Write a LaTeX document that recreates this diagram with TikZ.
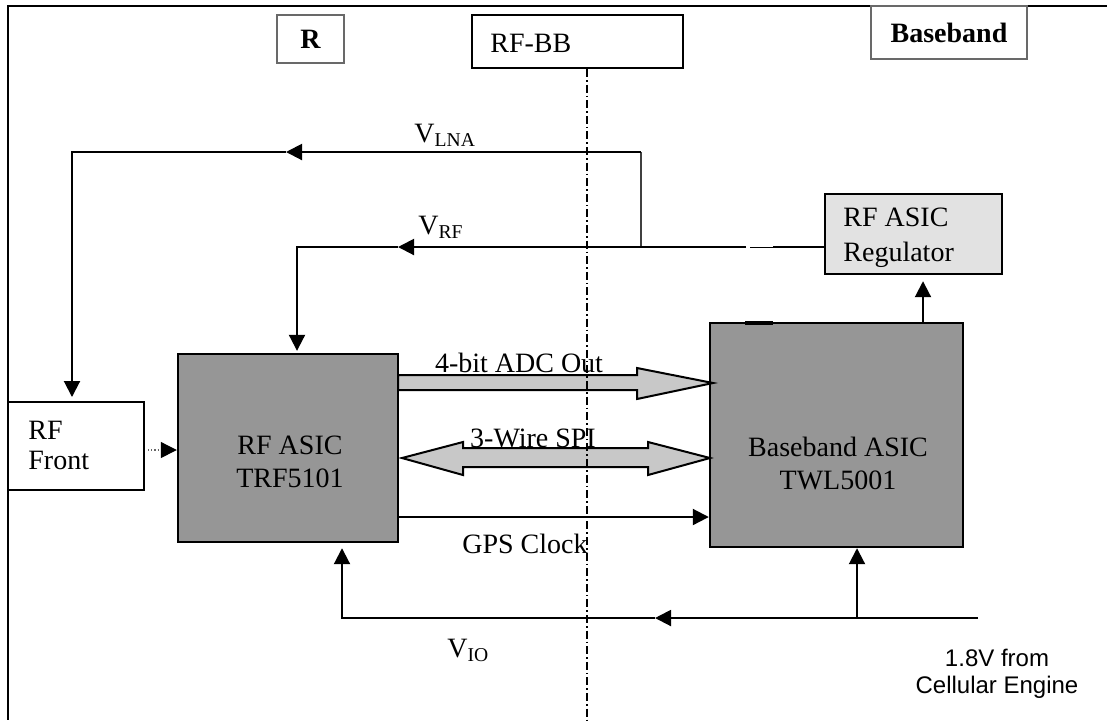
\documentclass[tikz,border=0pt]{standalone}
\usepackage{fontspec}
\setmainfont{Liberation Serif}
\setsansfont{Liberation Sans}
\usetikzlibrary{arrows.meta,calc}

\definecolor{chipgray}{RGB}{150,150,150}
\definecolor{busgray}{RGB}{200,200,200}
\definecolor{reggray}{RGB}{226,226,226}
\definecolor{taggray}{RGB}{105,105,105}

\tikzset{
  chip/.style={draw=black,line width=1.2pt,fill=chipgray,inner sep=0pt},
  plainbox/.style={draw=black,line width=1pt,fill=white,inner sep=0pt},
  tagbox/.style={draw=taggray,line width=1pt,fill=white,inner sep=0pt},
  txt/.style={font=\fontsize{14}{16.5}\selectfont,inner sep=0pt},
  wire/.style={line width=1pt},
  tip/.style={-{Triangle[length=8pt,width=8pt]}},
  bus/.style={draw=black,line width=1pt,fill=busgray,line join=miter},
}

\begin{document}
\begin{tikzpicture}[x=0.5pt,y=-0.5pt]
  \useasboundingbox (0,0) rectangle (1107,720);
  % outer frame
  \draw[line width=1pt] (1107,6) -- (8,6) -- (8,720);

  % tags on top
  \node[tagbox,minimum width=33.5pt,minimum height=24pt] (rtag) at (310.5,39)
    {\fontsize{14}{16}\selectfont\bfseries R};
  \node[plainbox,minimum width=105.5pt,minimum height=26.5pt] (rfbb) at (577.5,41.5) {};
  \node[txt,anchor=west] at ($(rfbb.west)+(19,2)$) {RF-BB};
  \node[tagbox,minimum width=78pt,minimum height=26.5pt] (bbtag) at (949,32.5)
    {\fontsize{14}{16}\selectfont\bfseries Baseband};

  % blocks
  \node[plainbox,minimum width=68pt,minimum height=44pt] (rffront) at (76,446) {};
  \node[txt,anchor=west,align=left,font=\fontsize{14}{15}\selectfont] at (28,445) {RF\\Front};

  \node[chip,minimum width=110pt,minimum height=94pt] (rfasic) at (288,448) {};
  \node[txt,align=center] at (290,461.5) {RF ASIC\\TRF5101};

  \node[chip,minimum width=126.5pt,minimum height=112pt] (bbasic) at (836.5,435) {};
  \node[txt,align=center] at (838,463.5) {Baseband ASIC\\TWL5001};
  \draw[line width=1.6pt] (745,323) -- (773,323);

  \node[draw=black,line width=1.2pt,fill=reggray,minimum width=88.5pt,minimum height=40pt,
        inner sep=0pt] (reg) at (913.5,234) {};
  \node[txt,anchor=west,align=left,font=\fontsize{14}{17.5}\selectfont] at (843,237.5)
    {RF ASIC\\Regulator};

  % supply lines
  \coordinate (lnaTap) at (641,247);
  \coordinate (lnaTop) at (641,152);
  \coordinate (lnaMid) at (286,152);
  \coordinate (lnaCorner) at (72,152);
  \draw[line width=0.7pt,black!75] (lnaTap) -- (lnaTop);
  \draw[wire,tip] (lnaTop) -- (lnaMid);
  \draw[wire,tip,shorten >=2pt] (lnaMid) -- (lnaCorner) -- (rffront.north -| lnaCorner);

  \coordinate (rfThin) at (773,247);
  \coordinate (rfGapR) at (750,247);
  \coordinate (rfGapL) at (746,247);
  \coordinate (rfMid) at (398,247);
  \coordinate (rfCorner) at (297,247);
  \draw[wire] (reg.west |- rfThin) -- (rfThin);
  \draw[line width=0.5pt] (rfThin) -- (rfGapR);
  \draw[wire,tip] (rfGapL) -- (rfMid);
  \draw[wire,tip,shorten >=1pt] (rfMid) -- (rfCorner) -- (rfasic.north -| rfCorner);

  \coordinate (regX) at (923,300);
  \draw[wire,tip,shorten >=3pt] (bbasic.north -| regX) -- (reg.south -| regX);

  % rf input
  \draw[densely dotted,line width=0.6pt,black!60,-{Triangle[length=8pt,width=8pt,black]}]
    ($(rffront.east)+(3,4)$) -- ($(rfasic.west)+(0,2)$);

  % data buses
  \filldraw[bus] (398,375) -- (637,375) -- (637,368) -- (713,383) -- (637,399)
    -- (637,390) -- (398,390) -- cycle;
  \filldraw[bus] (402,458) -- (463,442) -- (463,448) -- (648,448) -- (648,442)
    -- (710,458) -- (648,475) -- (648,467) -- (463,467) -- (463,475) -- cycle;

  \coordinate (gpsY) at (0,517);
  \draw[wire,tip] (rfasic.east |- gpsY) -- (bbasic.west |- gpsY);

  % io supply
  \coordinate (ioSrc) at (978,618);
  \coordinate (ioMid) at (655,618);
  \coordinate (ioBB) at (857,618);
  \coordinate (ioCorner) at (342,618);
  \draw[wire,tip] (ioSrc) -- (ioMid);
  \draw[wire,tip,shorten >=2.5pt] (ioMid) -- (ioCorner) -- (rfasic.south -| ioCorner);
  \draw[wire,tip] (ioBB) -- (bbasic.south -| ioBB);

  % rf / baseband border
  \coordinate (divBot) at (587,720);
  \draw[line width=0.8pt,dash pattern=on 4pt off 1.5pt on 0.8pt off 1.5pt]
    (rfbb.south -| divBot) -- (divBot);

  % labels
  \node[txt,anchor=base west] at (414,142) {V\textsubscript{LNA}};
  \node[txt,anchor=base west] at (418,234) {V\textsubscript{RF}};
  \node[txt,anchor=base west] at (447,657) {V\textsubscript{IO}};
  \node[txt,anchor=base] at (519,372) {4-bit ADC Out};
  \node[txt,anchor=base] at (533,447) {3-Wire SPI};
  \node[txt,anchor=base] at (525,553) {GPS Clock};
  \node[font=\sffamily\fontsize{12}{13.5}\selectfont,align=center,inner sep=0pt]
    at (997,674) {1.8V from\\Cellular Engine};
\end{tikzpicture}
\end{document}
